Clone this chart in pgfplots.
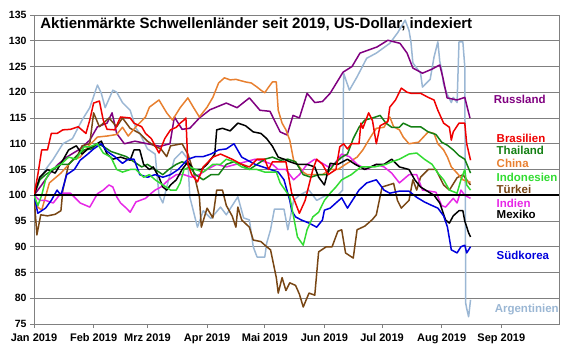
\documentclass[border=0pt]{standalone}
\usepackage{pgfplots}
\pgfplotsset{compat=1.18}
\usepackage{fontspec}
\setmainfont{Liberation Sans}
\definecolor{cRus}{RGB}{128,0,128}
\definecolor{cBra}{RGB}{240,0,0}
\definecolor{cTha}{RGB}{20,128,20}
\definecolor{cChi}{RGB}{232,128,48}
\definecolor{cIdn}{RGB}{50,220,50}
\definecolor{cTur}{RGB}{120,70,20}
\definecolor{cInd}{RGB}{230,40,230}
\definecolor{cMex}{RGB}{0,0,0}
\definecolor{cKor}{RGB}{0,0,220}
\definecolor{cArg}{RGB}{155,183,212}
\definecolor{cGrid}{RGB}{128,128,128}
\begin{document}
\begin{tikzpicture}
\useasboundingbox (0,0) rectangle (580pt,359pt);
\begin{axis}[
  at={(34pt,35pt)}, anchor=south west,
  scale only axis, width=525pt, height=309pt,
  xmin=0, xmax=273, ymin=75, ymax=135,
  axis line style={cGrid, line width=0.8pt},
  ytick={75,80,...,135},
  xtick={0,31,59,90,120,151,181,212,243},
  xticklabels={Jan 2019, Feb 2019, Mrz 2019, Apr 2019, Mai 2019, Jun 2019, Jul 2019, Aug 2019, Sep 2019},
  ymajorgrids, grid style={cGrid, line width=0.8pt},
  tick align=outside, major tick length=4pt,
  tick style={cGrid, line width=0.8pt},
  xtick pos=bottom, ytick pos=left,
  /pgf/number format/assume math mode=true,
  yticklabel style={font=\fontsize{10.5}{12}\selectfont\bfseries},
  xticklabel style={font=\fontsize{11}{12}\selectfont\bfseries, yshift=-2pt},
  every axis plot/.append style={line width=1.5pt, line join=round, mark=none},
]
\addplot[cArg] coordinates {(0,100)(3,103)(6,105)(10,107)(15,110)(20,111)(25,114.6)(29,117)(33,121.4)(35,119.8)(37,117)(41,120.4)(43,120)(46,118)(50,116.5)(53,113)(55,112)(59,109)(63,108)(65,100)(67,98.5)(70,103)(73,107)(77,108.5)(80,107)(81,99.7)(85,93.8)(88,97)(92,95.5)(97,97.7)(100,96.2)(106,99.7)(109,95.6)(112,95.2)(114,90)(116,88)(120,88)(121,90.7)(123,93.3)(125,97.3)(130,97.3)(132,93.3)(135,99)(138,100)(143,101)(147,99)(152,100)(158,100)(160.5,101)(161,123.7)(164,120.4)(168,123)(173,126.6)(178,127.6)(185,129.5)(189,131.5)(193,134)(195,132)(196,129.8)(197,125.7)(201,123.7)(202,121)(206,122.5)(208,126.8)(210,129.8)(211,126)(212,124.3)(213,121.5)(215,119.5)(217,118)(218,119)(220,118)(221,129.8)(223,129.8)(224,125)(224.5,79)(225,78)(226,76.4)(227,79.7)};
\addplot[cRus] coordinates {(0,100)(4,102)(8.3,104.3)(12.5,106)(17,107.4)(24,109)(29,110.7)(33,113.3)(38,114)(40.6,116)(43,112)(47,110)(52.5,110.5)(59,110)(65.5,109.5)(70.7,110)(73,115.2)(77,112.8)(81,113)(86,115)(91.5,116.6)(100,117.9)(105.6,117)(112,118.9)(117.5,116.5)(122.7,116.3)(128,112.3)(131.6,111.7)(134.7,115.5)(138,115)(142,119.8)(146,118)(150,118.2)(154,119.8)(160.7,123.9)(165.4,125)(169.5,127.6)(178.4,128.8)(184,130.1)(190.3,129.5)(194,127.6)(197,124.7)(202,123.7)(207,124.5)(211,125.3)(212.7,122.7)(214.8,118.9)(220,118.5)(224,119)(226.7,115)};
\addplot[cTur] coordinates {(0,100)(1.5,92.3)(3.5,96.2)(7,96)(11,96.3)(14,97)(15,101)(18,106)(23,108)(25,109.6)(29,110)(31,116)(34,113.3)(39,115)(43,113.3)(46,115)(50,113)(55,112)(59,110.5)(63,109.5)(66,109)(69,107.5)(71,109.6)(77,110)(80,108)(83,104.5)(86,99.7)(87,93.8)(90,97.5)(93,95.6)(95,101)(98,101)(100,98)(103,96)(105,93.8)(106,97.7)(108,95.2)(112,93.8)(114,91.3)(118,91)(121,90)(123,89.4)(126,84)(127,81)(129,84)(131,81.5)(133,83)(136,82.5)(138,80.8)(140,78.3)(143,81)(146,80.6)(148,89)(152,90)(155,90)(158,93)(160,93.3)(162,88.8)(166,87.8)(168,93.3)(172,94)(176,95.3)(178,96.2)(181,101.6)(187,102.3)(189,99)(191,97.5)(195,99)(197,103)(199,101)(201,103.5)(205,105)(209,105)(213,102)(216,101)(220,103.4)(223,104)(227,102)};
\addplot[cChi] coordinates {(0,100)(2,97.7)(4,97.1)(8,102.4)(14,104.3)(20,106.8)(24,107.4)(28,109.4)(33,111.3)(38,111.5)(43,111.8)(46,113.2)(49,111.5)(53,113.3)(58,115.2)(60,117.1)(65,118.5)(69,116)(72,114.6)(76,117)(80,118.9)(83,117)(86,115.2)(90,117.1)(93,119)(96,121.8)(99,122.8)(102,122.4)(105,122.5)(110,122)(113,121.8)(116,121)(118,120.4)(120,119.9)(122,121)(124,122)(126,122)(127,116.5)(129,114)(131,112.7)(133,110.7)(135,106.8)(137,106)(140,104.5)(142,104)(146,104)(150,104)(154,105)(158,105)(162,106)(168,107.4)(171,108.8)(175,111.3)(178,113)(182,113.2)(185,115.2)(187,113.3)(190,112.7)(192,111.3)(195,110)(200,110.3)(205,112.3)(208,112)(210,110)(213,108.8)(215,107.4)(217,105.5)(220,104.3)(223,103)(227,102.5)};
\addplot[cInd] coordinates {(0,100)(3,99)(6,99)(10,98.5)(14,100.4)(19,100.4)(24,98.5)(29,97.7)(33,100.3)(36,101)(39,102)(41,101.6)(43,99.7)(45,98.5)(48,97.5)(50,96.7)(53,98.7)(58,99.4)(61,100.4)(63,101)(66,101.6)(70,103)(74,104)(78,104)(82,103.5)(86,104)(90,105)(95,106)(100,105.5)(105,106)(110,106.5)(115,107)(120,106.5)(124,106)(127,105)(131,105)(135,103)(138,104)(142,106)(146,107)(150,106.2)(153,105.5)(156,106)(160,108)(164,107.5)(168,106)(173,105)(178,106)(182,105.5)(186,104.3)(190,102.4)(195,104)(199,104)(202,101)(209,100.6)(212,98)(214,97.7)(218,99.4)(220,98.5)(222,101)(224,100)(227,99.4)};
\addplot[cTha] coordinates {(0,100)(3,103)(6,104)(10,105)(14,106)(18,106)(22,107.5)(26,108.8)(30,109)(33,110)(36,109.5)(40,108.5)(44,108)(48,107.5)(52,106.5)(56,105.5)(59,106)(63,105)(67,104)(70,105)(74,106)(77,106.5)(80,106)(84,104)(88,103)(92,104)(96,104)(100,106)(104,106.5)(108,106)(112,105)(116,106)(120,107)(124,107.4)(128,106.8)(132,107)(136,106.5)(140,104)(144,103.5)(148,104)(152,104)(156,106)(160,107.4)(163,108)(166,111)(169,113.2)(172,114.6)(176,115)(180,115.5)(183,114)(186,113.2)(190,113.2)(192,114)(196,113.3)(201,113.3)(205,112.3)(209,111.8)(212,110.3)(215,109.7)(218,108.8)(221,107.7)(224,107)(227,104.3)};
\addplot[cMex] coordinates {(0,100)(3,103.5)(7,105)(11,104.3)(15,106.8)(18,108.8)(22,109.6)(25,108)(28,109)(31,109.6)(35,110.5)(38,108)(41,107)(45,107.4)(50,106.8)(52,108.8)(55,108.8)(57,106)(60,105)(62,105.5)(65,103.5)(67,101.6)(69,101)(71,102)(74,103)(77,105)(80,106.5)(83,105)(87,105)(90,106)(94,108)(95,112.7)(98,113)(102,112.5)(106,114)(110,113.5)(114,112.3)(118,112)(121,111)(124,109.5)(127,107.4)(130,107)(133,106.5)(137,106)(142,106)(146,105.5)(148,103.5)(151,102)(154,106.2)(158,106)(163,107)(167,106)(172,105)(178,106)(182,106)(186,107)(190,105.5)(195,105)(198,103)(201,101.6)(208,100)(211,98.5)(214,95.2)(216,94.6)(218,96)(221,97)(223,97)(224,95)(226,92.7)(227,91.9)};
\addplot[cKor] coordinates {(0,100)(2,96.5)(4,97)(6,97.5)(9,99)(12,101)(14,100)(17,104)(21,105)(24,106.8)(28,108)(31,109)(35,110)(38,108.5)(42,107.5)(46,106.2)(49,107)(52,107)(55,104)(59,103.5)(63,104)(67,103.5)(71,104)(75,105)(80,107)(84,107.5)(88,107.5)(92,108)(96,108.8)(100,109)(104,110)(108,107.4)(111,106.8)(115,106)(119,105.5)(123,105)(127,104.5)(130,103)(133,99)(134,97)(136,95.8)(139,95.2)(143,94.6)(147,93.8)(150,95.2)(151,97.1)(154,97.5)(157,98.5)(160,99.5)(163,97.5)(169,101)(173,102.4)(178,103)(182,101)(185,100.4)(190,100.8)(195,100.8)(199,99.6)(203,98.7)(207,98)(210,97.5)(213,96)(215,93.8)(217,89.4)(220,88.8)(222,90)(224,90.3)(225,88.8)(227,90)};
\addplot[cIdn] coordinates {(0,100)(2,98)(4,100)(6,103)(9,105)(14,106)(18,107.4)(22,107)(26,109.4)(29,109.4)(33,110)(36,108.2)(40,107.4)(43,105)(46,104.5)(50,105)(53,105)(57,103.5)(60,104)(63,103)(67,102)(71,101)(74,101)(76,102.4)(78,105)(81,105.5)(84,105)(88,104.5)(93,106)(97,106)(100,107)(104,106.5)(108,105.5)(112,105)(116,105)(120,104.5)(126,104.5)(128,102.4)(133,99.7)(135,95.8)(137,91.9)(140,90.3)(142,93.3)(145,95.8)(148,96.7)(151,99)(154,100.4)(157,101.6)(160,103)(165,104)(170,105.5)(177,105.5)(183,106)(186,106.5)(190,107)(195,108)(199,108.2)(203,107)(207,106)(210,104.3)(213,103)(216,101)(220,100.4)(222,103)(224,105)(225,102)(227,101)};
\addplot[cBra] coordinates {(0,100)(2,104)(4,108.8)(7,108.8)(9,112)(12,112)(15,112.7)(19,112.8)(23,113.3)(27,112)(29,114.6)(31,117.9)(34,118.3)(36,114.6)(38,112.8)(42,112.7)(45,115.2)(50,115)(52,114)(56,113.3)(58,112)(61,111)(65,108.2)(68,111)(71,112.7)(74,113.2)(76,114)(78,114.6)(79,115)(80,106)(82,104)(85,102.6)(88,105.5)(93,107.4)(97,108)(103,107)(108,106)(112,105.5)(116,107)(120,107)(122,105)(124,106.5)(131,106.5)(134,100.4)(138,96.5)(141,99)(143,102)(145,105)(147,107)(150,106)(153,104)(157,105)(159,109.4)(161,110)(163,109)(165,110)(169,110)(170,114)(171,113)(174,116)(176,114.5)(178,110)(180,113.5)(184,114.3)(185,117.1)(188,118.5)(191,120.8)(194,120)(196,119.8)(201,119.8)(205,119)(208,118.5)(210,116.5)(213,114)(216,113.2)(217,110.7)(218,112.3)(221,114)(224,114)(225,110)(227,106.8)};
\addplot[black, line width=2.2pt] coordinates {(0,100)(273,100)};
\node[anchor=west, font=\fontsize{15}{17}\selectfont\bfseries] at (axis cs:1.5,133.3) {Aktienmärkte Schwellenländer seit 2019, US-Dollar, indexiert};
\begin{scope}[every node/.style={anchor=west, font=\fontsize{11.5}{13}\selectfont\bfseries, inner sep=0pt}]
\node[text=cRus] at (axis cs:239,118.7) {Russland};
\node[text=cBra] at (axis cs:240.5,111.1) {Brasilien};
\node[text=cTha] at (axis cs:240.5,108.8) {Thailand};
\node[text=cChi] at (axis cs:240.5,106.1) {China};
\node[text=cIdn] at (axis cs:240.5,103.5) {Indonesien};
\node[text=cTur] at (axis cs:240.5,101.2) {Türkei};
\node[text=cInd] at (axis cs:240.5,98.5) {Indien};
\node[text=cMex] at (axis cs:240.5,96.2) {Mexiko};
\node[text=cKor] at (axis cs:240.5,88.4) {Südkorea};
\node[text=cArg] at (axis cs:239.5,77.9) {Argentinien};
\end{scope}
\node[anchor=east, inner sep=0pt, font=\fontsize{11}{13}\selectfont\bfseries] at (axis cs:282.9,69.8) {Quelle: MSCI, Bloomberg, Baader Bank Kapitalmarktanalyse};
\end{axis}
\end{tikzpicture}
\end{document}
